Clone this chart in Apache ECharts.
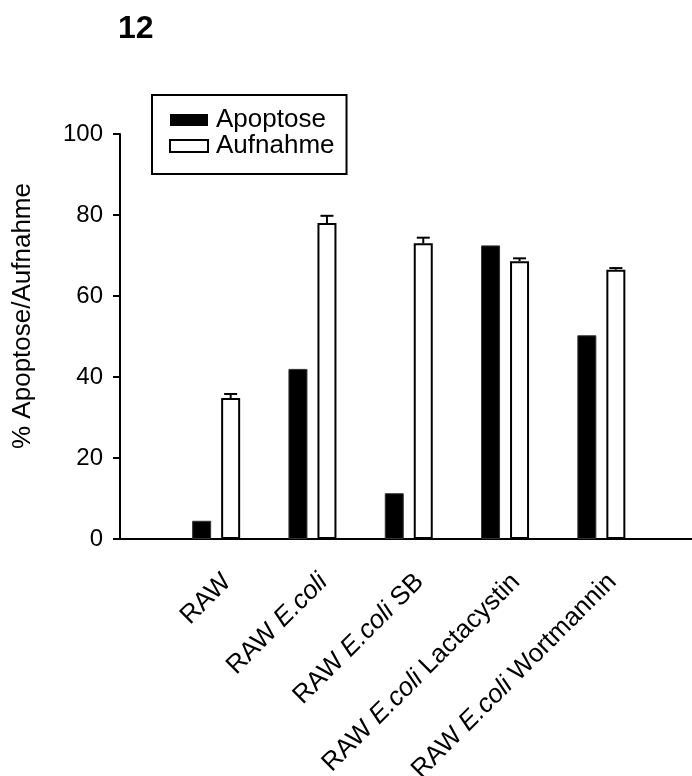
<!DOCTYPE html>
<html>
<head>
<meta charset="utf-8">
<script src="https://cdn.jsdelivr.net/npm/echarts@6/dist/echarts.min.js"></script>
<style>
  html, body { margin: 0; padding: 0; background: #fff; }
  #chart { width: 692px; height: 776px; }
</style>
</head>
<body>
<div id="chart"></div>
<script>
// Treatment groups (E.coli is set in italics on the axis)
const categories = ['RAW', 'RAW E.coli', 'RAW E.coli SB', 'RAW E.coli Lactacystin', 'RAW E.coli Wortmannin'];
// Percent apoptotic cells
const apoptose = [4.5, 42, 11.3, 72.5, 50.3];
// Percent uptake, with its error (upper whisker)
const aufnahme = [34.8, 78, 73, 68.6, 66.5];
const aufnahmeErr = [1.0, 1.8, 1.4, 0.7, 0.4];
const yTicks = [0, 20, 40, 60, 80, 100];

const FONT = '"Liberation Sans", Arial, sans-serif';
const BAR_W = 19;
const BAR_GAP = 10;

const chart = echarts.init(document.getElementById('chart'), null, { renderer: 'canvas' });

const errData = categories.map((c, i) => [i, aufnahme[i], aufnahme[i] + aufnahmeErr[i]]);

chart.setOption({
  backgroundColor: '#fff',
  animation: false,
  textStyle: { fontFamily: FONT, color: '#000' },
  title: {
    text: '12',
    left: 113,
    top: 8,
    textStyle: { fontFamily: FONT, fontWeight: 'bold', fontSize: 32, color: '#000' }
  },
  legend: {
    orient: 'vertical',
    left: 152,
    top: 95,
    padding: [12, 12, 15, 17],
    borderColor: '#000',
    borderWidth: 2,
    icon: 'rect',
    itemWidth: 38,
    itemHeight: 12,
    itemGap: 0,
    textStyle: { fontFamily: FONT, fontSize: 26, color: '#000', lineHeight: 23.5, padding: [0, 0, 0, 3] },
    data: [
      { name: 'Apoptose', itemStyle: { color: '#000', borderWidth: 0 } },
      { name: 'Aufnahme', itemStyle: { color: '#fff', borderColor: '#000', borderWidth: 2 } }
    ]
  },
  graphic: [{
    type: 'text',
    x: 23,
    y: 316,
    rotation: Math.PI / 2,
    style: {
      text: '% Apoptose/Aufnahme',
      font: '26px ' + FONT,
      fill: '#000',
      align: 'center',
      verticalAlign: 'middle'
    }
  }],
  grid: [
    { left: 168, right: 42.5, top: 134, height: 405, containLabel: false, outerBoundsMode: 'none' },
    { left: 120, right: 0, top: 134, height: 405, containLabel: false, outerBoundsMode: 'none' }
  ],
  xAxis: [
    {
      type: 'category',
      gridIndex: 0,
      data: categories,
      axisLine: { show: false },
      axisTick: { show: false },
      axisLabel: {
        rotate: 45,
        margin: 28,
        interval: 0,
        fontSize: 26,
        color: '#000',
        fontFamily: FONT,
        padding: [31, 0, 0, 0],
        formatter: v => v.replace('E.coli', '{i|E.coli}'),
        rich: { i: { fontStyle: 'italic', fontSize: 26, fontFamily: FONT, color: '#000' } }
      }
    },
    {
      type: 'value',
      gridIndex: 1,
      min: 0,
      max: 1,
      axisLine: { show: true, lineStyle: { color: '#000', width: 2 } },
      axisTick: { show: false },
      axisLabel: { show: false },
      splitLine: { show: false }
    }
  ],
  yAxis: [
    {
      type: 'value',
      gridIndex: 0,
      min: yTicks[0],
      max: yTicks[yTicks.length - 1],
      interval: 20,
      offset: 48,
      axisLine: { show: true, lineStyle: { color: '#000', width: 2 } },
      axisTick: { show: true, inside: false, length: 7, lineStyle: { color: '#000', width: 2 } },
      axisLabel: { fontSize: 24, color: '#000', margin: 17, fontFamily: FONT },
      splitLine: { show: false }
    },
    {
      type: 'value',
      gridIndex: 1,
      min: 0,
      max: 1,
      show: false
    }
  ],
  series: [
    {
      name: 'Apoptose',
      type: 'bar',
      xAxisIndex: 0,
      yAxisIndex: 0,
      data: apoptose,
      barWidth: BAR_W,
      barGap: (BAR_GAP / BAR_W * 100) + '%',
      itemStyle: { color: '#000', borderColor: '#333', borderWidth: 1 }
    },
    {
      name: 'Aufnahme',
      type: 'bar',
      xAxisIndex: 0,
      yAxisIndex: 0,
      data: aufnahme,
      barWidth: BAR_W,
      itemStyle: { color: '#fff', borderColor: '#000', borderWidth: 2 }
    },
    {
      name: 'AufnahmeErr',
      type: 'custom',
      xAxisIndex: 0,
      yAxisIndex: 0,
      data: errData,
      z: 3,
      silent: true,
      renderItem: function (params, api) {
        const off = BAR_W / 2 + BAR_GAP / 2;
        const base = api.coord([api.value(0), api.value(1)]);
        const top = api.coord([api.value(0), api.value(2)]);
        const x = base[0] + off;
        const half = 6.5;
        const style = { stroke: '#000', lineWidth: 2, fill: null };
        return {
          type: 'group',
          children: [
            { type: 'line', shape: { x1: x, y1: base[1], x2: x, y2: top[1] }, style: style },
            { type: 'line', shape: { x1: x - half, y1: top[1], x2: x + half, y2: top[1] }, style: style }
          ]
        };
      }
    }
  ]
});
</script>
</body>
</html>
